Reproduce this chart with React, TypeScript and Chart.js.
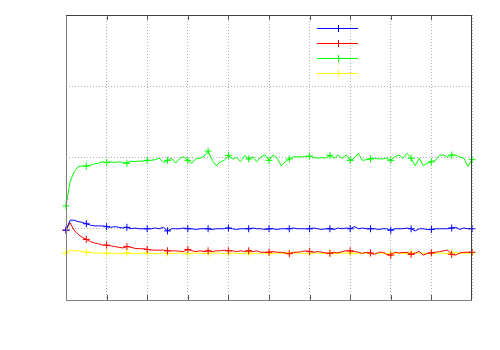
import React, { useEffect, useRef } from "react";
import { Chart, registerables } from "chart.js";

Chart.register(...registerables);

const X_MIN = 0;
const X_MAX = 100;
const X_STEP = 10;
const Y_MIN = 0;
const Y_MAX = 4;
const Y_STEP = 1;

const seriesNames = ["", "", "", ""];
const seriesColors = ["#0000ff", "#ff0000", "#00ff00", "#ffff00"];

const blueValues = [
  0.98, 1.12, 1.12, 1.1, 1.09, 1.07, 1.05, 1.04, 1.04, 1.04,
  1.03, 1.02, 1.03, 1.02, 1.01, 1.02, 1.0, 1.01, 1.0, 1.0,
  1.0, 1.0, 1.01, 1.0, 1.02, 0.97, 1.0, 1.0, 1.0, 1.01,
  1.0, 1.0, 0.99, 1.0, 1.0, 1.0, 0.99, 1.0, 1.0, 1.0,
  1.01, 1.0, 0.99, 1.0, 1.0, 1.0, 1.01, 1.0, 1.0, 0.99,
  1.0, 1.0, 0.99, 1.0, 1.0, 1.0, 1.01, 1.0, 1.0, 1.0,
  1.0, 1.01, 1.0, 0.99, 1.0, 1.0, 0.99, 1.01, 1.0, 1.01,
  1.0, 1.03, 1.0, 1.01, 1.0, 1.0, 1.0, 0.99, 1.0, 1.0,
  0.98, 1.0, 1.0, 1.0, 1.01, 1.0, 0.97, 1.0, 1.0, 0.99,
  0.99, 1.0, 1.0, 1.0, 1.0, 1.01, 1.02, 0.99, 1.01, 1.0,
  1.0,
];

const redValues = [
  0.98, 1.085, 0.98, 0.92, 0.88, 0.85, 0.82, 0.8, 0.79, 0.77,
  0.77, 0.76, 0.75, 0.74, 0.73, 0.75, 0.74, 0.725, 0.72, 0.72,
  0.71, 0.7, 0.7, 0.7, 0.7, 0.69, 0.69, 0.69, 0.685, 0.68,
  0.71, 0.69, 0.68, 0.69, 0.68, 0.69, 0.68, 0.69, 0.69, 0.7,
  0.69, 0.69, 0.68, 0.69, 0.68, 0.69, 0.68, 0.69, 0.67, 0.67,
  0.67, 0.68, 0.67, 0.67, 0.66, 0.65, 0.67, 0.67, 0.68, 0.69,
  0.68, 0.67, 0.68, 0.67, 0.66, 0.655, 0.67, 0.66, 0.68, 0.69,
  0.69, 0.68, 0.67, 0.655, 0.67, 0.66, 0.64, 0.67, 0.67, 0.64,
  0.63, 0.67, 0.66, 0.665, 0.67, 0.64, 0.66, 0.68, 0.63, 0.655,
  0.66, 0.67, 0.68, 0.69, 0.7, 0.64, 0.63, 0.66, 0.67, 0.67,
  0.67,
];

const greenValues = [
  1.32, 1.66, 1.8, 1.87, 1.88, 1.88, 1.89, 1.91, 1.92, 1.94,
  1.93, 1.94, 1.93, 1.94, 1.93, 1.92, 1.95, 1.94, 1.95, 1.95,
  1.96, 1.96, 1.97, 1.99, 1.93, 1.96, 1.99, 1.92, 1.99, 2.01,
  1.96, 1.92, 1.98, 1.99, 2.02, 2.09, 1.96, 1.885, 1.94, 1.96,
  2.03, 1.98, 2.0, 1.94, 2.03, 1.98, 2.01, 1.94, 2.01, 2.035,
  1.96, 2.035, 1.99, 1.885, 1.94, 1.98, 2.01, 2.01, 2.01, 2.01,
  2.02, 2.0, 1.99, 2.0, 1.99, 2.03, 1.99, 2.035, 1.99, 2.035,
  1.96, 1.99, 2.06, 1.96, 1.97, 1.98, 1.99, 1.98, 1.98, 1.99,
  1.96, 2.01, 2.035, 1.99, 2.06, 1.99, 1.885, 1.99, 1.885, 1.92,
  1.94, 1.96, 2.03, 2.035, 2.01, 2.035, 2.03, 2.01, 1.99, 1.875,
  1.97,
];

const yellowValues = [
  0.66, 0.7, 0.69, 0.69, 0.68, 0.67, 0.67, 0.66, 0.66, 0.655,
  0.655, 0.66, 0.655, 0.65, 0.655, 0.66, 0.655, 0.65, 0.655, 0.66,
  0.655, 0.65, 0.655, 0.65, 0.66, 0.655, 0.65, 0.655, 0.66, 0.655,
  0.65, 0.655, 0.66, 0.655, 0.65, 0.655, 0.66, 0.66, 0.655, 0.65,
  0.655, 0.66, 0.655, 0.65, 0.655, 0.66, 0.655, 0.65, 0.655, 0.66,
  0.655, 0.65, 0.66, 0.655, 0.65, 0.66, 0.655, 0.66, 0.655, 0.65,
  0.655, 0.66, 0.655, 0.65, 0.655, 0.66, 0.655, 0.65, 0.66, 0.655,
  0.66, 0.655, 0.65, 0.655, 0.66, 0.655, 0.65, 0.655, 0.66, 0.655,
  0.65, 0.655, 0.66, 0.655, 0.65, 0.66, 0.655, 0.66, 0.655, 0.65,
  0.66, 0.655, 0.66, 0.655, 0.65, 0.66, 0.665, 0.66, 0.655, 0.66,
  0.66,
];

const allSeries = [blueValues, redValues, greenValues, yellowValues];

const frameAndLegend = {
  id: "frameAndLegend",
  afterDatasetsDraw(chart: any) {
    const { ctx, chartArea } = chart;
    const xs = chart.scales.x;
    const { left, right, top, bottom } = chartArea;
    ctx.save();
    ctx.strokeStyle = "#555555";
    ctx.lineWidth = 1;
    for (let v = X_MIN + X_STEP; v < X_MAX; v += X_STEP) {
      const px = Math.round(xs.getPixelForValue(v)) + 0.5;
      ctx.beginPath();
      ctx.moveTo(px, bottom);
      ctx.lineTo(px, bottom - 5);
      ctx.moveTo(px, top);
      ctx.lineTo(px, top + 5);
      ctx.stroke();
    }
    ctx.strokeStyle = "#808080";
    ctx.beginPath();
    ctx.moveTo(left + 0.5, top);
    ctx.lineTo(left + 0.5, bottom + 0.5);
    ctx.lineTo(right, bottom + 0.5);
    ctx.stroke();
    ctx.strokeStyle = "#404040";
    ctx.beginPath();
    ctx.moveTo(left, top + 0.5);
    ctx.lineTo(right - 0.5, top + 0.5);
    ctx.lineTo(right - 0.5, bottom);
    ctx.stroke();
    const lx0 = left + 251;
    const lx1 = left + 292;
    chart.data.datasets.forEach((ds: any, i: number) => {
      const ly = top + 12.5 + i * 15.3;
      ctx.strokeStyle = ds.borderColor;
      ctx.lineWidth = 1;
      ctx.beginPath();
      ctx.moveTo(lx0, Math.round(ly) + 0.5);
      ctx.lineTo(lx1, Math.round(ly) + 0.5);
      ctx.stroke();
      const mx = Math.round((lx0 + lx1) / 2) + 0.5;
      ctx.beginPath();
      ctx.moveTo(mx, Math.round(ly) - 3);
      ctx.lineTo(mx, Math.round(ly) + 4);
      ctx.stroke();
      ctx.fillStyle = "#000";
      ctx.font = "10px 'DejaVu Sans'";
      ctx.textAlign = "right";
      ctx.textBaseline = "middle";
      if (ds.label) ctx.fillText(ds.label, lx0 - 6, ly);
    });
    ctx.restore();
  },
};

function App() {
  const canvasRef = useRef<HTMLCanvasElement | null>(null);

  useEffect(() => {
    const canvas = canvasRef.current;
    if (!canvas) return;
    const chart = new Chart(canvas, {
      type: "line",
      data: {
        datasets: allSeries.map((vals, si) => ({
          label: seriesNames[si],
          data: vals.map((v, i) => ({ x: i, y: v })),
          borderColor: seriesColors[si],
          backgroundColor: seriesColors[si],
          borderWidth: 1,
          pointStyle: "cross",
          pointRadius: (c: any) => (c.dataIndex % 5 === 0 ? 3.5 : 0),
          pointBorderWidth: 1,
          pointHoverRadius: 0,
          tension: 0,
          fill: false,
          clip: 5,
        })),
      },
      options: {
        animation: false,
        responsive: false,
        maintainAspectRatio: false,
        layout: { padding: { left: 66, top: 15, right: 28, bottom: 50 } },
        plugins: {
          legend: { display: false },
          tooltip: { enabled: false },
          title: { display: false },
        },
        scales: {
          x: {
            type: "linear",
            min: X_MIN,
            max: X_MAX,
            ticks: { display: false, stepSize: X_STEP },
            grid: { color: "#b0b0b0", lineWidth: 1, drawTicks: false },
            border: { display: false, dash: [1, 2] },
          },
          y: {
            min: Y_MIN,
            max: Y_MAX,
            ticks: { display: false, stepSize: Y_STEP },
            grid: { color: "#b0b0b0", lineWidth: 1, drawTicks: false },
            border: { display: false, dash: [1, 2] },
          },
        },
      },
      plugins: [frameAndLegend],
    });
    return () => chart.destroy();
  }, []);

  return (
    <div style={{ position: "fixed", left: 0, top: 0, width: 500, height: 350, background: "#fff" }}>
      <canvas ref={canvasRef} width={500} height={350} style={{ display: "block" }} />
    </div>
  );
}

export default App;
